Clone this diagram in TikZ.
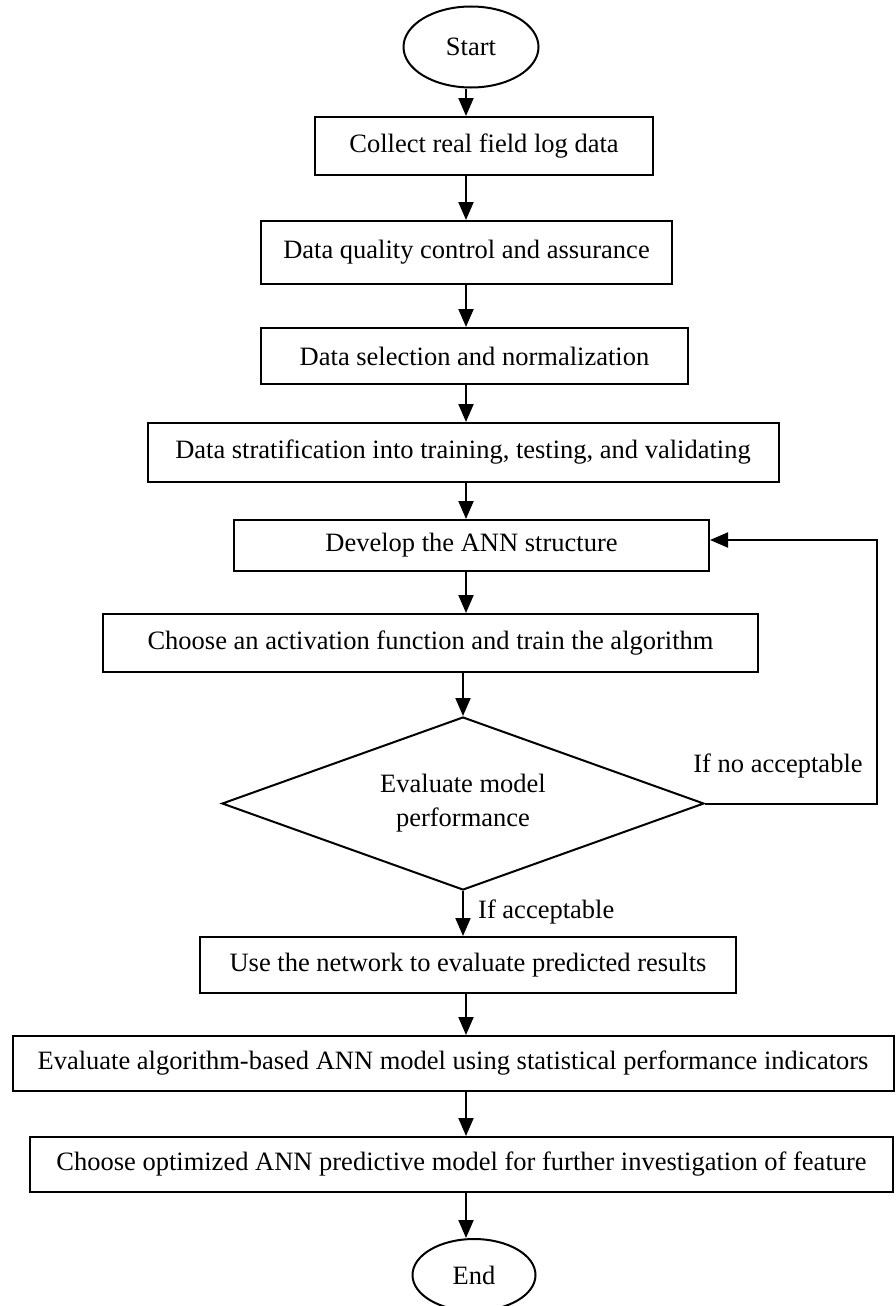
\documentclass[tikz,border=0pt]{standalone}
\usepackage{fontspec}
\setmainfont{Liberation Serif}
\usetikzlibrary{shapes.geometric,arrows.meta}

\begin{document}
\begin{tikzpicture}[x=1pt,y=-1pt]
\tikzset{box/.style={draw, line width=2pt, inner sep=0pt, font=\fontsize{26.5}{34}\selectfont},
  term/.style={box, ellipse},
  decide/.style={box, diamond, aspect=2.8, align=center},
  arr/.style={line width=2pt, -{Triangle[length=18pt,width=15pt]}},
  lbl/.style={inner sep=0pt, font=\fontsize{26.5}{34}\selectfont}}
\useasboundingbox (0,0) rectangle (895,1306);
\coordinate (spine) at (466,0);
\node[term, minimum width=135, minimum height=81] (start) at (471,47) {Start};
\node[box, minimum width=338, minimum height=58] (collect) at (484,146) {Collect real field log data};
\node[box, minimum width=411, minimum height=63] (quality) at (466.5,252.5) {Data quality control and assurance};
\node[box, minimum width=427, minimum height=56] (select) at (474.5,356) {Data selection and normalization};
\node[box, minimum width=631, minimum height=59] (strat) at (463,452.5) {Data stratification into training, testing, and validating};
\node[box, minimum width=475, minimum height=51] (develop) at (471.5,545.5) {Develop the ANN structure};
\node[box, minimum width=655, minimum height=58] (choose) at (430.5,643) {Choose an activation function and train the algorithm};
\node[decide, minimum width=482, minimum height=173] (eval) at (463,803.5) {Evaluate model\\performance};
\node[box, minimum width=536, minimum height=56] (usenet) at (468,965) {Use the network to evaluate predicted results};
\node[box, minimum width=881, minimum height=55] (evalalg) at (453,1063.5) {Evaluate algorithm-based ANN model using statistical performance indicators};
\node[box, minimum width=863, minimum height=55] (optim) at (461.5,1164.5) {Choose optimized ANN predictive model for further investigation of feature};
\node[term, minimum width=123, minimum height=72] (end) at (474,1275) {End};
\node[lbl] (nolbl) at (778,766) {If no acceptable};
\node[lbl, anchor=west] (yeslbl) at (478,912) {If acceptable};
\coordinate (back) at (877,540);

\draw[arr] (start.south -| spine) -- (collect.north -| spine);
\draw[arr] (collect.south -| spine) -- (quality.north -| spine);
\draw[arr] (quality.south -| spine) -- (select.north -| spine);
\draw[arr] (select.south -| spine) -- (strat.north -| spine);
\draw[arr] (strat.south -| spine) -- (develop.north -| spine);
\draw[arr] (develop.south -| spine) -- (choose.north -| spine);
\draw[arr] (choose.south -| eval.north) -- (eval.north);
\draw[arr] (eval.south) -- (usenet.north -| eval.south);
\draw[arr] (usenet.south -| spine) -- (evalalg.north -| spine);
\draw[arr] (evalalg.south -| spine) -- (optim.north -| spine);
\draw[arr] (optim.south -| spine) -- (end.north -| spine);
% loop back when not acceptable
\draw[arr] (eval.east) -| (back) -- (back -| develop.east);
\end{tikzpicture}
\end{document}
